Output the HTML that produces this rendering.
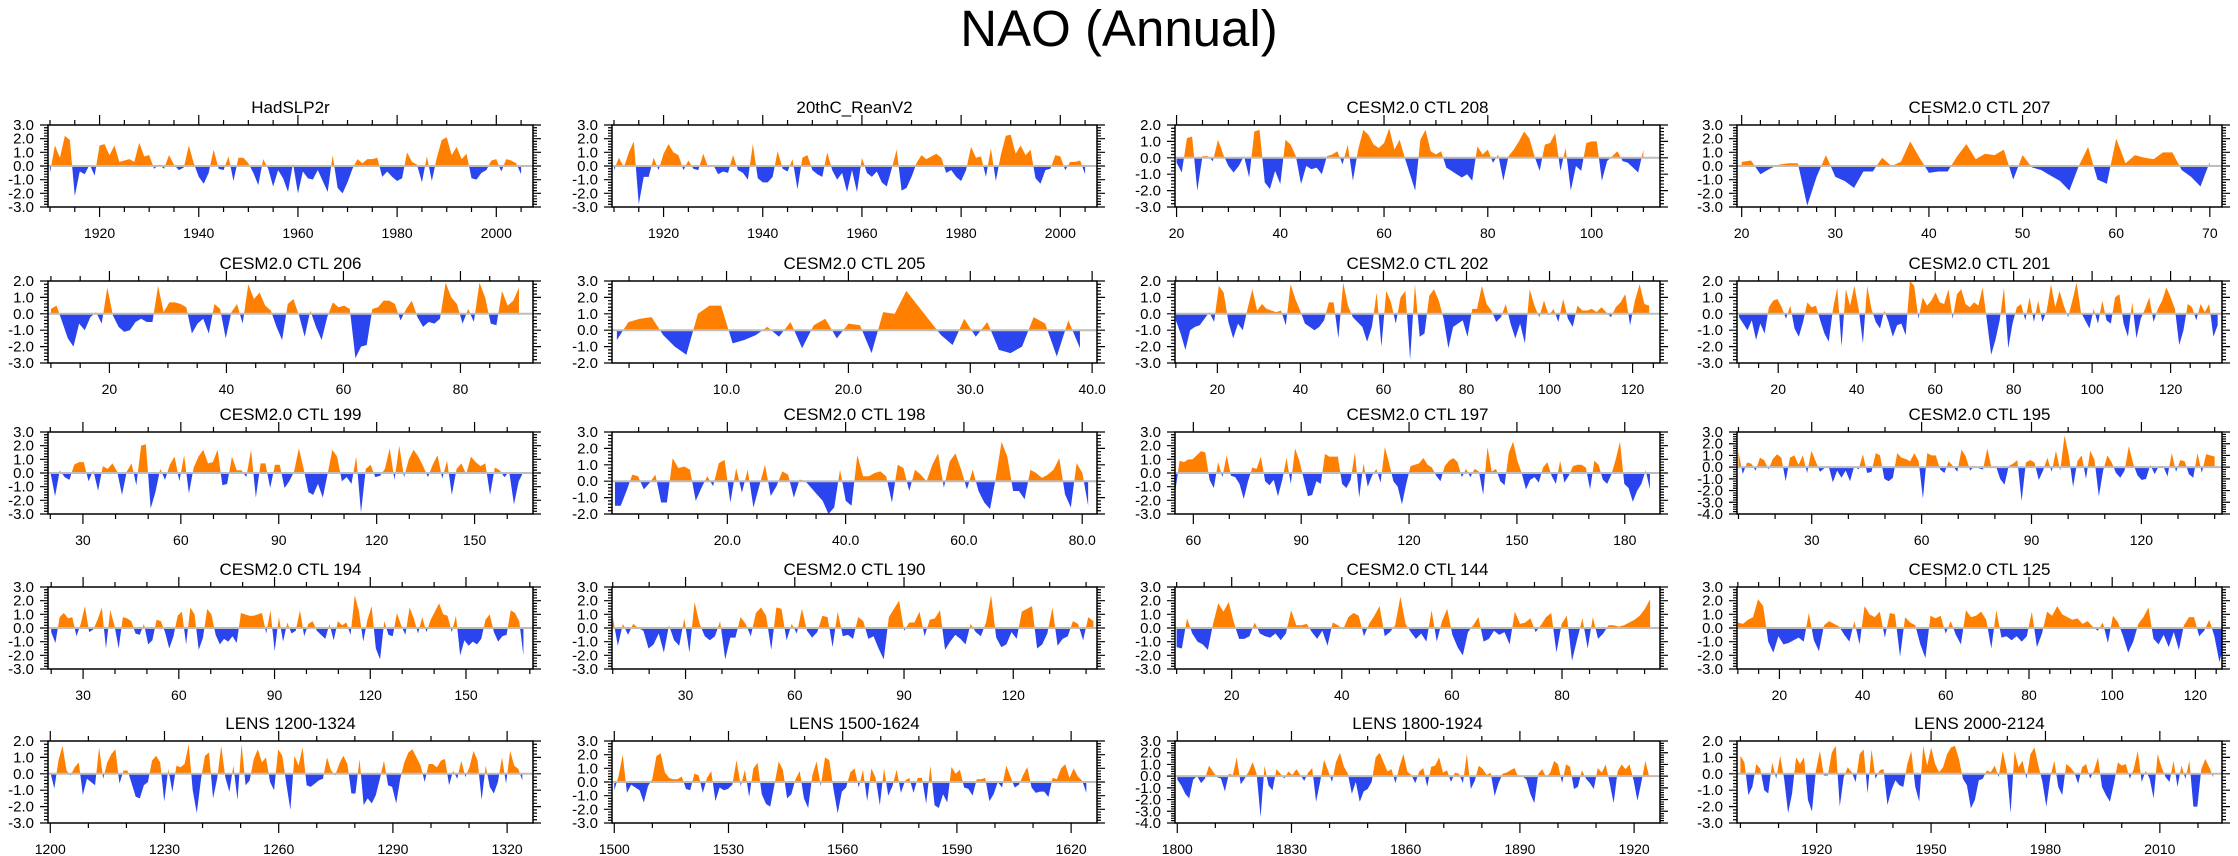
<!DOCTYPE html>
<html><head><meta charset="utf-8"><title>NAO (Annual)</title>
<style>
html,body{margin:0;padding:0;background:#fff;}
svg{display:block;font-family:"Liberation Sans",Arial,sans-serif;}
</style></head>
<body>
<svg id="chart" width="2238" height="856" viewBox="0 0 2238 856" xmlns="http://www.w3.org/2000/svg">
<text x="1119" y="46" text-anchor="middle" font-size="51">NAO (Annual)</text>
</svg>
<script>
const titles=["HadSLP2r","20thC_ReanV2","CESM2.0 CTL 208","CESM2.0 CTL 207","CESM2.0 CTL 206","CESM2.0 CTL 205","CESM2.0 CTL 202","CESM2.0 CTL 201","CESM2.0 CTL 199","CESM2.0 CTL 198","CESM2.0 CTL 197","CESM2.0 CTL 195","CESM2.0 CTL 194","CESM2.0 CTL 190","CESM2.0 CTL 144","CESM2.0 CTL 125","LENS 1200-1324","LENS 1500-1624","LENS 1800-1924","LENS 2000-2124"];
const vHad=[-0.5,1.5,0.6,2.2,1.9,-2.2,-0.4,-0.6,0.1,-0.7,1.5,1.6,0.8,1.5,0.3,0.4,0.5,0.3,1.7,0.7,0.8,-0.2,0.1,-0.2,0.8,0.1,-0.3,-0.1,1.5,0.2,-0.8,-1.3,-0.5,1.2,-0.2,-0.3,0.7,-1.1,0.6,0.6,0.2,-0.5,-1.4,0.5,-0.2,-1.5,-0.3,-0.9,-1.9,0.2,-2.0,-0.4,-0.9,-1.0,-0.3,-1.1,-1.9,0.8,-1.6,-2.0,-1.2,-0.2,0.5,0.2,0.5,0.5,0.6,-0.8,-0.4,-0.8,-1.1,-0.9,1.0,0.3,0.1,-1.2,0.7,-1.1,0.6,1.9,2.1,0.8,1.4,0.5,0.9,-0.9,-1.0,-0.5,-0.3,0.4,0.5,-0.4,0.5,0.4,0.2,-0.6];
const v20C=[-0.3,0.6,-0.1,1.0,1.8,-2.8,-0.8,-0.8,0.6,-0.3,0.9,1.6,1.0,0.8,-0.3,0.4,-0.2,-0.3,0.9,-0.1,0.1,-0.6,-0.4,-0.5,0.8,-0.3,-0.5,-1.0,1.6,-0.9,-1.2,-1.2,-0.8,1.1,-0.2,-0.4,0.5,-1.7,0.6,0.8,-0.3,-0.6,-0.8,1.0,-0.3,-1.0,-0.5,-1.9,-0.3,-1.9,0.6,-0.5,-0.8,-0.4,-1.2,-1.5,-0.2,1.2,-1.8,-1.6,-0.8,0.2,0.8,0.5,0.7,0.9,0.6,-0.5,-0.3,-0.8,-1.1,-0.3,1.4,0.6,0.7,-0.8,1.3,-1.1,0.8,2.2,2.3,0.9,1.5,0.8,1.2,-0.9,-1.3,-0.3,-0.2,0.8,0.7,-0.3,0.3,0.3,0.4,-0.6];
const v208=[-0.3,-0.9,1.2,1.3,-2.0,0.1,0.1,-0.2,1.1,0.2,-0.5,-0.9,-0.5,0.1,-1.2,1.6,1.7,-1.5,-1.9,-0.8,-1.6,1.1,0.8,0.1,-1.6,-0.5,-0.7,-0.6,-1.0,0.1,0.2,0.4,-0.4,0.8,-1.4,0.5,1.7,1.4,0.8,0.6,0.9,1.8,0.5,1.1,0.0,-1.0,-2.0,1.1,1.7,0.4,0.2,0.4,-0.6,-0.8,-1.0,-1.2,-1.0,-1.4,0.7,0.2,0.5,-0.3,0.2,-1.4,0.1,0.5,1.0,1.6,1.2,0.1,-0.8,0.8,0.9,1.5,-0.8,0.6,-2.0,-0.5,-0.8,0.9,1.0,1.0,-1.4,-0.2,0.1,0.4,-0.2,-0.3,-0.6,-0.9,0.5];
const v207=[0.3,0.4,-0.6,-0.2,0.1,0.2,0.2,-2.9,-0.8,0.8,-0.8,-1.1,-1.6,-0.4,-0.4,0.6,0.0,0.3,1.8,0.6,-0.5,-0.4,-0.4,0.7,1.6,0.5,0.9,0.8,1.2,-1.0,0.8,-0.1,-0.3,-0.7,-1.1,-1.8,0.0,1.4,-1.0,-1.3,2.0,0.2,0.8,0.6,0.5,1.0,1.0,-0.3,-0.8,-1.5,0.3];
const v206=[0.3,0.5,-0.5,-1.5,-2.0,-0.6,-1.0,-0.2,0.1,-0.6,1.6,-0.1,-0.8,-1.1,-1.0,-0.5,-0.3,-0.5,-0.5,1.7,0.1,0.7,0.7,0.6,0.4,-1.2,-0.6,-0.3,-1.2,0.6,0.3,-1.5,0.1,0.6,-0.6,1.8,0.9,1.3,0.5,0.2,-0.8,-1.6,0.6,0.9,-0.1,-1.4,0.2,-0.8,-1.6,-0.2,0.7,0.4,0.5,0.3,-2.7,-2.0,-1.9,0.3,0.4,0.8,0.8,0.6,-0.4,0.3,0.8,-0.2,-0.8,-0.5,-0.6,-0.3,1.9,1.0,0.6,-0.6,0.3,-0.5,1.9,1.0,-0.6,-0.7,1.4,0.5,0.8,1.6];
const v205=[-0.6,0.5,0.7,0.8,-0.3,-1.0,-1.5,1.0,1.5,1.5,-0.8,-0.6,-0.3,0.2,-0.4,0.5,-1.1,0.3,0.7,-0.5,0.4,0.3,-1.4,1.1,1.0,2.4,1.5,0.6,-0.3,-0.9,0.7,-0.4,0.5,-1.2,-1.4,-1.0,0.8,0.4,-1.6,0.6,-1.1];
const v202=[-0.4,-1.2,-2.2,-1.0,-0.8,-0.7,-0.3,0.1,-0.5,1.7,1.3,-0.5,-1.5,-0.6,-1.0,0.3,1.5,0.2,0.6,0.3,0.2,0.1,0.2,-0.7,1.8,0.9,0.2,-0.6,-0.8,-1.0,-0.8,-0.4,0.7,0.7,-1.5,1.9,0.5,-0.2,-0.5,-0.8,-1.7,-0.8,1.3,-2.0,1.4,0.7,-0.6,1.0,1.4,-2.8,1.8,-1.4,-1.2,1.1,1.5,0.8,-0.3,-2.1,-0.8,-0.6,-0.4,-1.4,0.3,0.3,1.7,0.6,0.2,-0.5,-0.2,0.6,-0.6,-1.5,-0.6,-1.8,1.5,0.5,-0.2,0.8,-0.1,0.3,-0.5,0.9,-0.3,-0.8,0.5,0.2,0.2,0.3,0.1,0.4,0.1,-0.2,0.4,0.7,1.2,-0.7,0.8,1.8,0.6,0.5];
const v201=[-0.2,-0.6,-1.0,-0.4,-1.6,-0.6,-1.2,0.4,0.8,0.9,0.4,-0.3,0.5,-0.9,-1.4,-0.5,0.7,0.4,0.5,-0.4,-1.2,-1.7,0.3,1.6,-2.0,1.5,0.5,1.7,0.3,-1.8,1.7,0.3,-0.5,-0.9,0.2,-0.5,-1.4,-0.7,-0.6,-1.3,2.0,1.7,-0.3,1.0,0.5,0.8,1.3,0.7,0.6,1.5,-0.3,1.2,1.5,0.6,0.4,0.7,0.5,1.6,-0.4,-2.5,-1.6,-0.4,1.6,-2.1,-0.6,0.4,0.6,-0.4,1.0,-0.5,0.8,-0.5,0.2,1.8,0.4,1.4,0.5,-0.2,0.8,1.9,0.1,-0.4,-0.9,0.3,-0.6,0.8,-0.4,-0.6,1.0,1.2,-0.6,-1.4,0.7,-1.5,-0.3,0.3,1.0,-0.5,0.3,0.8,1.6,1.0,0.3,-1.9,-1.0,0.6,0.4,-0.4,0.6,0.1,0.6,-1.4,-0.7];
const v199=[0.1,-1.7,0.2,-0.3,-0.5,0.6,0.8,0.8,-0.6,0.2,-1.3,0.5,0.3,0.7,0.1,-1.6,0.1,0.7,-0.9,2.0,2.1,-2.6,-1.4,0.3,-0.5,0.6,1.2,-0.6,1.3,-1.5,0.4,1.2,1.7,0.7,0.8,1.7,-0.9,-0.8,1.2,0.2,0.2,-0.3,1.7,-1.8,0.7,0.7,-1.1,0.6,0.6,-1.1,-0.6,0.1,1.8,0.3,-1.4,-1.6,-0.8,-1.8,-0.1,1.7,1.2,-0.6,-0.3,-0.8,1.2,-2.9,0.3,0.6,-0.3,-0.2,0.3,1.8,-0.5,2.0,-0.3,1.0,1.7,1.2,0.5,-0.3,0.6,1.3,-0.4,0.9,-1.6,0.3,0.7,-0.1,1.2,0.8,0.5,0.7,-1.6,0.4,0.2,-0.3,0.1,-2.3,-0.6,0.1];
const v198=[-1.5,-1.5,-0.6,0.4,0.3,-0.5,-0.1,0.4,-1.3,-1.3,1.4,0.8,0.9,0.7,-1.2,-0.4,0.3,-0.3,1.1,1.3,-1.3,0.8,-0.7,0.7,-1.6,-0.3,1.0,-0.9,-0.3,0.6,0.4,-1.0,0.1,0.0,-0.4,-0.8,-1.2,-2.0,-1.6,0.7,-1.2,-1.5,1.6,0.3,0.3,0.5,0.6,0.3,-1.3,1.0,0.8,-0.6,0.7,0.4,0.0,1.0,1.7,-0.4,1.2,1.7,0.7,-0.5,0.7,-0.6,-1.3,-1.7,0.2,2.4,1.5,-0.6,-0.6,-1.1,0.7,0.5,0.2,0.4,0.7,1.4,-0.8,-1.6,1.1,0.5,-1.5];
const v197=[-1.3,0.9,0.8,1.0,1.0,1.3,1.6,1.5,-0.5,-1.1,0.8,-0.3,1.3,-0.2,-0.3,-0.8,-1.9,-0.6,0.4,0.3,1.2,-0.6,-0.9,-0.5,-1.7,-0.5,1.1,-0.8,1.8,0.9,-0.4,-1.7,-1.6,-0.6,-0.8,1.4,1.2,1.2,1.2,-0.8,-1.1,-0.5,1.5,-1.8,0.7,-1.0,-0.2,0.3,-0.7,1.9,0.7,-0.6,-1.0,-2.3,-0.8,0.5,0.6,0.7,1.1,0.6,0.4,-0.2,-0.6,0.5,0.9,1.1,0.8,-0.3,0.3,-0.3,0.3,0.1,-1.6,1.9,0.1,0.3,-0.6,-0.9,1.5,2.3,0.9,0.0,-1.2,-0.5,-0.3,-0.7,0.4,0.8,-0.2,-0.8,0.9,-0.7,-0.2,0.5,0.6,0.6,0.4,-1.2,0.9,0.6,-0.5,-0.8,-0.1,1.0,2.3,-0.8,-1.1,-2.1,-1.3,-0.8,0.2,-1.2];
const v195=[1.3,-0.6,0.4,0.3,-0.3,0.8,0.6,-0.2,0.7,1.1,0.8,-1.2,0.8,1.0,0.2,1.0,-0.5,1.4,0.5,-0.4,-0.1,0.1,-1.3,-0.3,-0.9,-0.3,-1.2,0.1,-0.2,1.1,-0.5,-0.4,1.2,1.0,-1.0,-1.2,-0.9,1.2,0.8,0.7,0.5,1.2,0.5,-2.7,1.2,1.0,1.0,-0.2,-0.5,0.5,0.1,-0.4,1.5,0.9,-0.3,0.1,-0.1,-0.2,1.6,-0.1,0.1,-1.0,-1.5,0.1,0.3,0.6,-2.9,0.4,0.6,0.4,-1.1,-0.3,0.8,-0.4,1.4,-0.3,2.7,1.0,-1.7,0.5,1.0,-1.0,1.4,0.6,-2.5,-0.3,1.0,0.4,-0.5,-0.9,-0.3,1.8,0.3,-0.7,-1.1,-1.0,0.2,-0.6,0.1,0.1,-0.8,1.2,-0.4,0.6,0.5,-0.6,-0.9,1.2,-0.5,1.1,1.0,0.9];
const v194=[-0.3,-1.1,0.8,1.1,0.7,0.8,-0.6,0.3,1.6,-0.3,-0.1,0.6,1.5,-1.5,1.3,0.2,-1.5,0.8,0.7,0.5,-0.4,-0.5,0.3,-1.2,-0.9,0.6,0.5,-0.3,-1.5,-0.6,0.9,1.2,-1.2,1.5,1.0,-1.6,-0.7,1.4,1.0,-0.5,-1.2,-0.8,-1.0,-0.6,-1.1,1.1,1.0,0.9,0.9,1.0,1.1,-0.4,1.3,-1.7,0.8,-1.0,0.4,-0.4,-0.2,1.3,-0.6,0.3,0.5,-0.2,-0.5,-0.8,0.3,-0.9,0.5,0.2,0.4,-0.5,2.4,1.2,-1.0,0.6,1.6,-1.5,-2.3,0.5,-0.5,-0.6,1.1,0.2,-0.5,1.5,0.7,-0.4,0.8,-0.3,0.6,1.2,1.8,1.0,0.9,-0.3,0.9,-2.0,-0.9,-1.3,-1.0,-1.2,-0.8,0.6,1.0,-0.3,-1.0,-0.6,-0.5,1.3,1.1,0.5,-2.0];
const v190=[0.8,-1.3,0.3,-0.5,0.3,0.0,-0.2,-1.5,-1.2,-0.4,-1.8,0.2,-0.9,-1.3,0.7,-1.8,1.9,0.3,-0.6,-0.9,-0.6,0.5,-2.3,-0.7,-0.7,0.8,0.3,-0.6,1.1,1.5,0.9,-1.6,1.5,1.4,-0.9,0.3,-0.4,1.4,-0.2,-0.7,-0.3,0.9,0.8,-1.4,1.2,-0.6,-0.5,-0.8,0.8,0.5,-0.8,-0.6,-1.5,-2.3,0.8,1.4,2.0,-0.2,0.4,0.4,1.2,-0.6,0.6,0.7,1.3,-1.6,-1.0,-0.5,-0.8,-1.2,0.3,-0.3,-0.6,0.4,2.4,-0.7,-1.4,-1.2,-0.3,-0.8,1.2,1.4,1.6,-1.5,-1.2,-0.4,1.5,-1.3,-0.8,-0.6,0.5,0.3,-0.9,0.8,0.5];
const v144=[-1.4,-1.5,0.7,-0.4,-1.0,-1.2,-1.6,0.3,1.8,1.2,1.9,0.4,-0.8,-0.8,-0.6,0.4,-0.4,-0.6,-0.7,-0.4,-0.9,-0.4,1.3,0.2,0.2,0.3,-0.3,-0.8,-0.2,-1.3,0.4,0.2,-0.1,0.8,1.1,0.9,-0.6,0.3,0.9,1.6,-0.6,-0.3,0.2,2.3,0.3,-0.3,-0.8,-0.4,-1.0,1.3,-1.0,0.5,1.4,-0.5,-1.4,-2.0,-0.3,0.2,0.8,-1.0,-0.8,-0.2,-0.5,-0.3,-1.2,1.2,0.3,0.4,0.7,-0.3,0.2,0.8,1.1,-1.8,0.3,0.9,-2.4,-0.8,0.7,-1.5,0.8,-0.8,-0.4,0.2,0.2,0.1,0.2,0.4,0.6,0.9,1.4,2.1];
const v125=[0.4,0.3,0.6,0.8,2.1,1.6,-1.0,-1.8,-0.6,-1.2,-1.1,-0.9,-0.7,-1.0,1.1,-0.9,-1.7,0.2,0.5,0.3,0.1,-0.5,-1.0,0.5,-1.2,1.6,1.0,0.8,1.2,-0.7,1.1,1.0,-2.1,0.8,0.4,0.2,-1.2,-2.2,0.9,0.7,0.9,-0.4,0.5,-0.5,-1.2,1.3,0.8,0.9,1.2,0.6,-1.5,1.3,-0.7,-0.6,-0.9,-0.6,-1.0,-0.6,1.2,-1.4,-0.4,1.2,0.9,1.6,1.0,0.8,0.6,0.7,0.3,0.5,0.1,-0.2,0.4,-1.1,0.9,0.4,-0.6,-1.8,-1.0,0.3,0.8,1.5,-0.8,-1.2,-0.5,-1.4,-0.3,-1.6,0.2,0.8,0.8,-0.6,-0.2,0.6,-0.6,-2.5,-1.0];
const vL1200=[0.1,-0.9,0.8,1.7,0.2,-0.1,0.4,0.7,-1.3,-0.3,-0.5,-0.7,1.6,-0.3,0.7,1.2,1.5,-0.6,0.2,0.2,-0.6,-1.4,-1.5,-0.7,-0.5,0.8,1.1,0.7,-1.7,0.3,-1.1,0.5,0.4,0.6,1.8,-1.0,-2.4,-0.4,1.1,1.3,-1.5,-0.3,1.7,-0.2,-1.1,0.5,-1.6,1.8,-0.7,-0.4,0.9,1.5,0.7,1.0,-0.5,-1.0,1.5,1.1,-0.6,-2.2,1.1,0.5,1.6,-0.7,-0.8,-0.6,-0.4,-0.3,1.0,0.2,-0.1,0.6,1.1,0.6,-1.2,-1.2,0.9,-1.9,-1.5,-1.8,-1.3,-0.3,0.8,-0.7,-0.8,-1.8,-0.3,0.7,1.3,1.5,1.0,0.5,-0.5,0.6,0.6,0.4,0.8,0.9,-0.7,0.2,-0.3,0.8,-0.2,0.4,1.4,0.8,-1.6,0.5,-0.8,-1.2,-0.5,1.0,-0.6,1.4,0.5,0.3,-0.4];
const vL1500=[-0.6,0.4,2.0,-0.8,-0.2,-0.4,-0.6,-1.5,-0.3,0.2,1.9,2.1,0.7,0.3,0.2,0.2,0.4,-0.5,-0.6,0.6,0.5,-0.8,0.3,0.8,-1.4,-0.4,-0.6,-0.5,-0.2,1.6,-0.3,0.9,-1.1,1.0,1.4,-0.9,-1.6,-1.8,-0.2,1.5,0.9,-1.2,-0.9,0.2,0.8,-1.2,-1.9,0.5,1.5,-0.3,1.8,1.6,-0.5,-2.3,-0.7,-0.4,0.7,1.0,-0.4,0.9,-1.4,1.0,0.3,-1.7,1.0,-1.0,-0.3,0.9,-0.8,0.1,0.3,-0.8,0.3,0.3,-1.6,1.2,-1.7,-1.9,-0.9,-1.5,1.1,0.6,0.9,-0.4,-0.5,-1.0,0.2,0.2,0.3,-1.4,-0.9,0.0,-0.4,1.2,0.4,-0.4,-0.2,0.5,1.1,-0.4,-0.8,-0.7,-0.7,-1.1,0.3,0.2,1.0,1.3,0.3,1.0,0.4,0.1,-0.8];
const vL1800=[-0.3,-0.8,-1.5,-1.9,-0.3,0.0,-0.6,-0.2,0.9,0.4,-0.1,-0.2,-1.3,0.2,0.1,1.6,-0.7,-0.2,0.4,1.2,0.2,-3.5,0.9,-0.8,-1.2,0.6,0.2,-0.2,0.4,0.1,0.6,0.1,-0.4,0.3,0.7,-2.2,-0.5,1.4,0.5,-0.5,1.2,2.0,0.8,0.2,-1.5,-0.5,-2.2,-1.3,-1.1,-0.5,1.6,2.0,1.2,0.4,0.6,-0.6,0.8,1.9,0.4,0.1,-0.6,0.4,0.7,-0.9,0.8,0.9,1.6,0.3,0.5,-0.5,0.3,0.2,-0.6,1.9,-1.1,-0.4,0.9,0.6,0.1,0.3,-1.7,-0.6,0.2,0.3,0.5,0.7,-0.1,0.0,-0.3,-1.5,-2.3,0.2,0.6,-0.1,0.3,1.3,1.0,-0.6,1.0,0.8,-1.1,-0.9,0.5,-0.2,-0.6,-1.1,0.7,0.3,1.0,-0.6,-2.3,0.4,1.0,0.6,1.0,-0.3,-2.1,-0.5,1.3,-0.1];
const vL2000=[1.1,0.7,-1.3,-0.8,0.6,0.3,-1.0,-1.2,0.7,-0.3,1.1,-0.3,-2.4,-1.2,1.0,0.6,1.0,-1.6,-2.3,0.2,1.4,-0.1,-0.1,1.3,1.7,-2.0,-0.2,0.4,0.1,-0.5,1.2,1.5,-1.2,1.5,-0.3,0.2,0.3,-1.9,-1.0,-0.4,-0.7,-0.8,0.6,1.4,-0.8,-1.7,1.7,0.5,1.6,0.6,0.1,0.4,1.2,1.6,1.7,0.9,-0.3,-0.7,-2.1,-1.6,-0.4,-0.3,0.2,0.1,0.5,-0.2,1.4,0.3,-2.4,1.4,0.4,0.8,-0.3,1.2,1.6,0.5,-0.5,-2.0,-0.2,0.8,-0.8,-1.3,0.6,0.4,0.1,-0.6,0.4,0.6,-0.3,0.2,1.0,-0.8,-1.3,-1.7,-0.6,0.7,0.5,0.6,-0.3,0.3,1.4,-0.5,0.2,-0.3,-1.5,1.2,0.4,-0.2,-0.5,0.8,-0.8,0.5,-0.3,0.8,-2.0,-2.0,0.3,0.9,0.4,-0.2];
const seriesValues=[vHad,v20C,v208,v207,v206,v205,v202,v201,v199,v198,v197,v195,v194,v190,v144,v125,vL1200,vL1500,vL1800,vL2000];
// data x-span [first, last] per panel
const dataStart=[1910,1910,20,20,10,1,10,10,20,1,55,10,20,10,10,10,1200,1500,1800,1900];
const dataEnd=[2005,2005,110,70,90,39,124,132,165,81,187,140,168,142,96,127,1324,1624,1924,2024];
const yMins=[-3,-3,-3,-3,-3,-2,-3,-3,-3,-2,-3,-4,-3,-3,-3,-3,-3,-3,-4,-3];
const yMaxs=[3,3,2,3,2,3,2,2,3,3,3,3,3,3,3,3,2,3,3,2];
const xMajor=[20,20,20,10,20,10,20,20,30,20,30,30,30,30,20,20,30,30,30,30];
const xDec=[0,0,0,0,0,1,0,0,0,1,0,0,0,0,0,0,0,0,0,0];

// axis layout (not data)
const axMin=[1909.6,1909.6,19.7,19.5,9.5,0.6,9.8,9.5,19.3,0.5,54.9,9.6,19,9.8,9.7,9.8,1199.4,1499.4,1799.4,1899.1];
const axMax=[2007.4,2007.4,113.2,71.3,92.4,40.4,126.6,133.1,167.9,82.5,189.8,142,171,143,97.8,126.4,1326.8,1626.8,1926.8,2026.3];
const colX=[48,612,1175,1737], rowY=[125,281,432,587,741], W=485, H=82;
const NS='http://www.w3.org/2000/svg';
const svg=document.getElementById('chart');
function mk(tag,attrs,parent){const e=document.createElementNS(NS,tag);for(const k in attrs)e.setAttribute(k,attrs[k]);(parent||svg).appendChild(e);return e;}

for(let p=0;p<20;p++){
  const L=colX[p%4], T=rowY[Math.floor(p/4)], R=L+W, B=T+H;
  const g=mk('g',{});
  
  
  const xs=v=>L+(v-axMin[p])/(axMax[p]-axMin[p])*W;
  const ys=v=>B-(v-yMins[p])/(yMaxs[p]-yMins[p])*H;
  const y0=ys(0);
  // title
  const t=mk('text',{x:L+W/2,y:T-12,'text-anchor':'middle','font-size':17},g);
  t.textContent=titles[p];
  
  
  // clip paths
  const cu=mk('clipPath',{id:'cu'+p},g); mk('rect',{x:L,y:T,width:W,height:y0-T},cu);
  const cd=mk('clipPath',{id:'cd'+p},g); mk('rect',{x:L,y:y0,width:W,height:B-y0},cd);
  const vals=seriesValues[p], n=vals.length, x0=dataStart[p], x1=dataEnd[p];
  let d='M'+xs(x0).toFixed(2)+','+y0.toFixed(2);
  for(let i=0;i<n;i++){const xv=x0+(x1-x0)*i/(n-1);d+=' L'+xs(xv).toFixed(2)+','+ys(vals[i]).toFixed(2);}
  d+=' L'+xs(x1).toFixed(2)+','+y0.toFixed(2)+' Z';
  const pu=mk('path',{d:d,fill:'#ff8000','clip-path':'url(#cu'+p+')'},g);
  
  
  const pd=mk('path',{d:d,fill:'#2b45ee','clip-path':'url(#cd'+p+')'},g);
  
  
  const zl=mk('line',{x1:L,x2:R,y1:y0,y2:y0,stroke:'#bdbdbd','stroke-width':2},g);
  
  
  // frame
  const fr=mk('rect',{x:L,y:T,width:W,height:H,fill:'none',stroke:'#000','stroke-width':1.5},g);
  
  
  // y ticks
  let td='';
  for(let k=Math.round(yMins[p]*5);k<=Math.round(yMaxs[p]*5);k++){
    const v=k/5, yy=ys(v), major=(k%5===0), len=major?8:4;
    td+='M'+(L-len)+','+yy+' H'+L+' M'+R+','+yy+' H'+(R+len)+' ';
    if(major){
      const lb=mk('text',{x:L-14,y:yy+5,'text-anchor':'end','font-size':15},g);
      lb.textContent=v.toFixed(1);
      
      
    }
  }
  // x ticks
  const mj=xMajor[p], mn=mj===10?2:(mj===30?10:5);
  for(let v=Math.ceil(axMin[p]/mn)*mn;v<=axMax[p];v+=mn){
    const xx=xs(v), major=(Math.abs(v/mj-Math.round(v/mj))<1e-6), len=major?10:5;
    td+='M'+xx+','+(T-len)+' V'+T+' M'+xx+','+B+' V'+(B+len)+' ';
    if(major){
      const lb=mk('text',{x:xx,y:B+31,'text-anchor':'middle','font-size':14},g);
      lb.textContent=v.toFixed(xDec[p]);
      
      
    }
  }
  const tk=mk('path',{d:td,stroke:'#000','stroke-width':1.2,fill:'none'},g);
  
  
}
</script>
</body></html>
